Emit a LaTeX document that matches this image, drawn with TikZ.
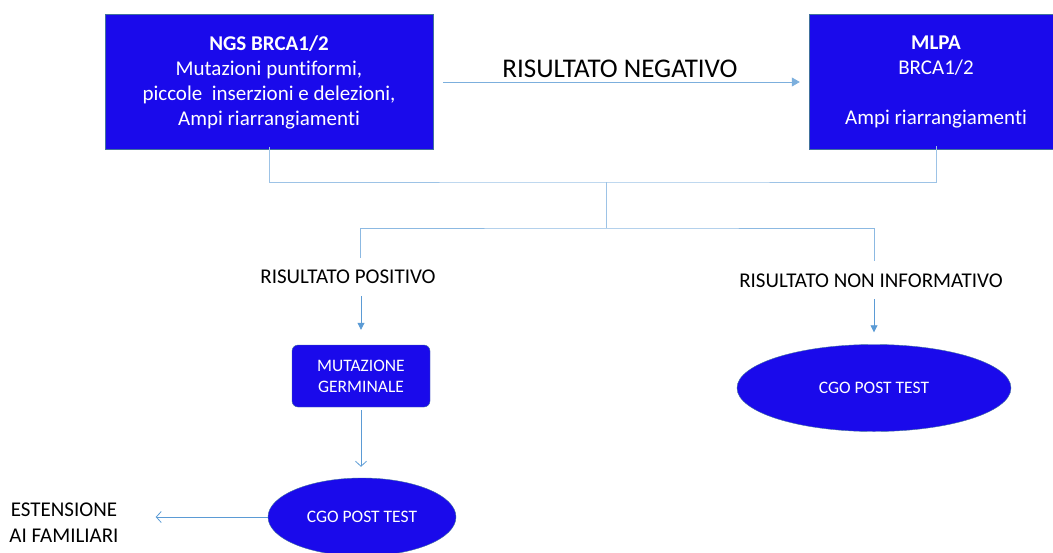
\documentclass[tikz,border=0pt]{standalone}
\usepackage{fontspec}
\setmainfont{Carlito}[Ligatures=NoCommon]
\usetikzlibrary{shapes.geometric,arrows.meta}
\definecolor{boxblue}{RGB}{26,10,235}
\definecolor{edgeblue}{RGB}{65,113,156}
\definecolor{lineblue}{RGB}{91,155,213}
\definecolor{paleblue}{RGB}{157,195,230}

\begin{document}
\begin{tikzpicture}[x=1pt,y=1pt,yscale=-1,xscale=1,
  testbox/.style={draw=edgeblue, fill=boxblue, text=white, align=center, inner sep=0pt, font=\fontsize{21}{25}\selectfont},
  smallbox/.style={draw=edgeblue, fill=boxblue, text=white, align=center, inner sep=0pt, font=\fontsize{17.5}{21}\selectfont},
  label/.style={inner sep=0pt, align=center, font=\fontsize{21}{26}\selectfont},
  joinline/.style={draw=paleblue, line width=0.8pt},
  arr/.style={draw=lineblue, line width=0.8pt, -{Triangle[length=7pt,width=7pt]}},
  openarr/.style={draw=lineblue, line width=0.8pt, -{Straight Barb[length=5pt,width=11pt]}}]
\useasboundingbox (0,0) rectangle (1053,552);

%Shape: Rectangle [NGS]
\node [testbox, minimum width=328pt, minimum height=135pt] (ngs) at (269,82) {\textbf{NGS BRCA1/2}\\Mutazioni puntiformi,\\piccole\ \ inserzioni e delezioni,\\Ampi riarrangiamenti};
%Shape: Rectangle [MLPA]
\node [testbox, minimum width=254pt, minimum height=135pt] (mlpa) at (936,82) {\textbf{MLPA}\\BRCA1/2\\\mbox{}\\Ampi riarrangiamenti};
% Text Node
\node [label, font=\fontsize{27}{30}\selectfont] (neg) at (620,69) {RISULTATO NEGATIVO};
% Text Node
\node [label] (pos) at (348,277) {RISULTATO POSITIVO};
% Text Node
\node [label] (inf) at (871,281) {RISULTATO NON INFORMATIVO};
%Shape: Rounded Rectangle [germinale]
\node [smallbox, rounded corners=6pt, minimum width=138pt, minimum height=62pt] (germ) at (361,376) {MUTAZIONE\\GERMINALE};
%Shape: Ellipse [post test left]
\node [smallbox, ellipse, minimum width=188pt, minimum height=78pt] (cgoPos) at (362,517) {CGO POST TEST};
%Shape: Ellipse [post test right]
\node [smallbox, ellipse, minimum width=274pt, minimum height=87pt] (cgoInf) at (874,388) {CGO POST TEST};
% Text Node
\node [label] (est) at (64,523) {ESTENSIONE\\AI FAMILIARI};

\coordinate (join) at (606,182);
\coordinate (split) at (606,228);
\coordinate (posTop) at (360,258);
\coordinate (infTop) at (874,261);

%Straight Lines
\draw [arr, -{Triangle[length=8pt,width=9pt]}, draw=lineblue!80] ([xshift=10pt]ngs.east) -- ([xshift=-9pt]mlpa.west);
\draw [joinline] ([yshift=-3pt]ngs.south) |- (join) -| ([yshift=-4pt]mlpa.south);
\draw [joinline] (join) -- (split);
\draw [joinline, draw=lineblue!70] (posTop) |- (split) -| (infTop);
\draw [arr, shorten <=12pt, shorten >=15pt] (pos.south -| germ.north) -- (germ.north);
\draw [arr, shorten <=11pt, shorten >=12pt] (inf.south -| cgoInf.north) -- (cgoInf.north);
\draw [openarr, shorten <=3pt, shorten >=11pt] (germ.south) -- (germ.south |- cgoPos.north);
\draw [openarr, shorten >=37pt] (cgoPos.west) -- (cgoPos.west -| est.east);

\end{tikzpicture}
\end{document}
